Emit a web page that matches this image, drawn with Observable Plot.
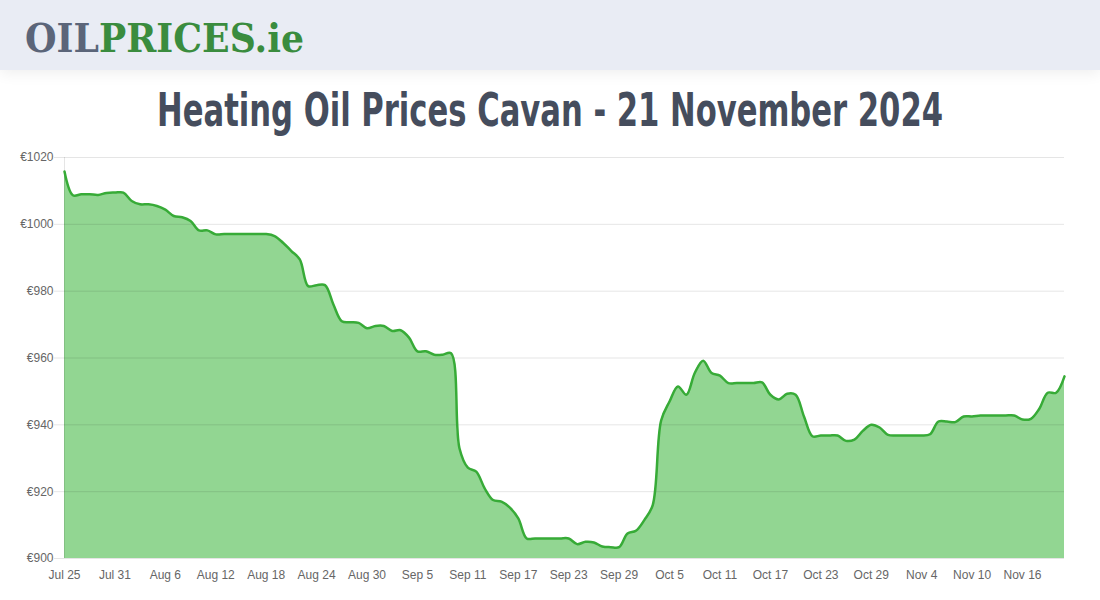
<!DOCTYPE html>
<html>
<head>
<meta charset="utf-8">
<script src="https://cdn.jsdelivr.net/npm/d3@7"></script>
<script src="https://cdn.jsdelivr.net/npm/@observablehq/plot@0.6"></script>
<style>
  html, body { margin: 0; padding: 0; background: #fff; width: 1100px; height: 600px; overflow: hidden; }
  #header { position: absolute; left: 0; top: 0; width: 1100px; height: 70px; background: #e9ecf4; box-shadow: 0 3px 14px rgba(0,0,0,0.07); z-index: 2; }
  #header svg { overflow: visible; }
  #title { position: absolute; left: 0; top: 80px; width: 1100px; height: 60px; margin: 0; text-align: center;
    font-family: 'DejaVu Sans', sans-serif; font-stretch: condensed; font-weight: bold;
    font-size: 46px; line-height: 60px; color: #454d5d; white-space: nowrap; }
  #title span { display: inline-block; transform-origin: 50% 50%; }
  #chart { position: absolute; left: 0; top: 140px; }
</style>
</head>
<body>
<div id="header">
  <svg width="1100" height="70">
    <text x="25" y="52" textLength="279" lengthAdjust="spacingAndGlyphs"
      style="font-family:'DejaVu Serif',serif;font-weight:900;font-size:40px;"><tspan fill="#5b6579">OIL</tspan><tspan fill="#3a8c3e">PRICES.ie</tspan></text>
  </svg>
</div>
<h1 id="title"><span>Heating Oil Prices Cavan - 21 November 2024</span></h1>
<div id="chart"></div>
<script>
const dates = [
  "2024-07-25","2024-07-26","2024-07-27","2024-07-28","2024-07-29","2024-07-30","2024-07-31",
  "2024-08-01","2024-08-02","2024-08-03","2024-08-04","2024-08-05","2024-08-06","2024-08-07","2024-08-08","2024-08-09","2024-08-10",
  "2024-08-11","2024-08-12","2024-08-13","2024-08-14","2024-08-15","2024-08-16","2024-08-17","2024-08-18","2024-08-19","2024-08-20",
  "2024-08-21","2024-08-22","2024-08-23","2024-08-24","2024-08-25","2024-08-26","2024-08-27","2024-08-28","2024-08-29","2024-08-30","2024-08-31",
  "2024-09-01","2024-09-02","2024-09-03","2024-09-04","2024-09-05","2024-09-06","2024-09-07","2024-09-08","2024-09-09","2024-09-10",
  "2024-09-11","2024-09-12","2024-09-13","2024-09-14","2024-09-15","2024-09-16","2024-09-17","2024-09-18","2024-09-19","2024-09-20",
  "2024-09-21","2024-09-22","2024-09-23","2024-09-24","2024-09-25","2024-09-26","2024-09-27","2024-09-28","2024-09-29","2024-09-30",
  "2024-10-01","2024-10-02","2024-10-03","2024-10-04","2024-10-05","2024-10-06","2024-10-07","2024-10-08","2024-10-09","2024-10-10",
  "2024-10-11","2024-10-12","2024-10-13","2024-10-14","2024-10-15","2024-10-16","2024-10-17","2024-10-18","2024-10-19","2024-10-20",
  "2024-10-21","2024-10-22","2024-10-23","2024-10-24","2024-10-25","2024-10-26","2024-10-27","2024-10-28","2024-10-29","2024-10-30","2024-10-31",
  "2024-11-01","2024-11-02","2024-11-03","2024-11-04","2024-11-05","2024-11-06","2024-11-07","2024-11-08","2024-11-09","2024-11-10",
  "2024-11-11","2024-11-12","2024-11-13","2024-11-14","2024-11-15","2024-11-16","2024-11-17","2024-11-18","2024-11-19","2024-11-20","2024-11-21"
];
const prices = [
  1015.8,1008.7,1009.0,1009.0,1008.8,1009.4,1009.5,1009.5,1007.0,1006.0,
  1006.0,1005.5,1004.4,1002.5,1002.1,1001.0,998.2,998.2,997.0,997.1,
  997.1,997.1,997.1,997.1,997.1,996.5,994.5,992.0,989.5,981.5,
  981.8,981.8,976.0,971.0,970.7,970.5,968.9,969.6,969.6,968.1,
  968.3,966.1,962.0,962.0,961.0,961.0,961.4,933.0,927.2,926.0,
  921.0,917.5,917.0,915.2,912.0,906.0,906.0,906.0,906.0,906.0,
  906.0,904.3,905.0,904.8,903.6,903.4,903.4,907.5,908.3,911.5,
  916.0,941.3,947.0,951.5,949.0,955.5,959.2,955.5,954.7,952.5,
  952.5,952.5,952.5,952.7,949.0,947.6,949.3,949.0,942.5,936.6,
  936.8,936.8,936.8,935.2,935.6,938.2,940.0,939.2,937.0,936.8,
  936.8,936.8,936.8,937.2,941.0,941.0,940.8,942.5,942.5,942.8,
  942.8,942.8,942.8,942.8,941.6,941.8,944.8,949.6,949.6,954.5
];
const xTickDates = ["2024-07-25","2024-07-31","2024-08-06","2024-08-12","2024-08-18","2024-08-24","2024-08-30",
  "2024-09-05","2024-09-11","2024-09-17","2024-09-23","2024-09-29","2024-10-05","2024-10-11","2024-10-17",
  "2024-10-23","2024-10-29","2024-11-04","2024-11-10","2024-11-16"];
const yTicks = [900, 920, 940, 960, 980, 1000, 1020];

// fit the title to the reference width
const tspan = document.querySelector("#title span");
const tw = tspan.getBoundingClientRect().width;
if (tw > 0) tspan.style.transform = `scaleX(${786 / tw})`;

const data = dates.map((d, i) => ({date: new Date(d), price: prices[i]}));
const xTicks = xTickDates.map(d => new Date(d));
const fmt = d3.utcFormat("%b %-d");

const chart = Plot.plot({
  width: 1100,
  height: 460,
  marginTop: 17,
  marginRight: 36,
  marginBottom: 42,
  marginLeft: 64,
  style: {fontFamily: "'Liberation Sans', Arial, sans-serif", fontSize: "12px", color: "#666", background: "transparent"},
  x: {type: "utc", domain: [new Date(dates[0]), new Date(dates[dates.length - 1])]},
  y: {domain: [900, 1020]},
  marks: [
    Plot.areaY(data, {x: "date", y1: 900, y2: "price", curve: "catmull-rom", fill: "#92d692"}),
    Plot.ruleY(yTicks, {stroke: "#000", strokeOpacity: 0.1}),
    Plot.ruleX([new Date(dates[0])], {stroke: "#000", strokeOpacity: 0.1}),
    Plot.lineY(data, {x: "date", y: "price", curve: "catmull-rom", stroke: "#37ab37", strokeWidth: 2.5}),
    Plot.axisY({ticks: yTicks, tickSize: 10, tickPadding: 1, tickFormat: d => "€" + d, stroke: "#000", strokeOpacity: 0.1, fill: "#666", fillOpacity: 1, label: null}),
    Plot.axisX({ticks: xTicks, tickSize: 0, tickPadding: 12, tickFormat: fmt, fill: "#666", label: null})
  ]
});
document.getElementById("chart").appendChild(chart);
</script>
</body>
</html>
